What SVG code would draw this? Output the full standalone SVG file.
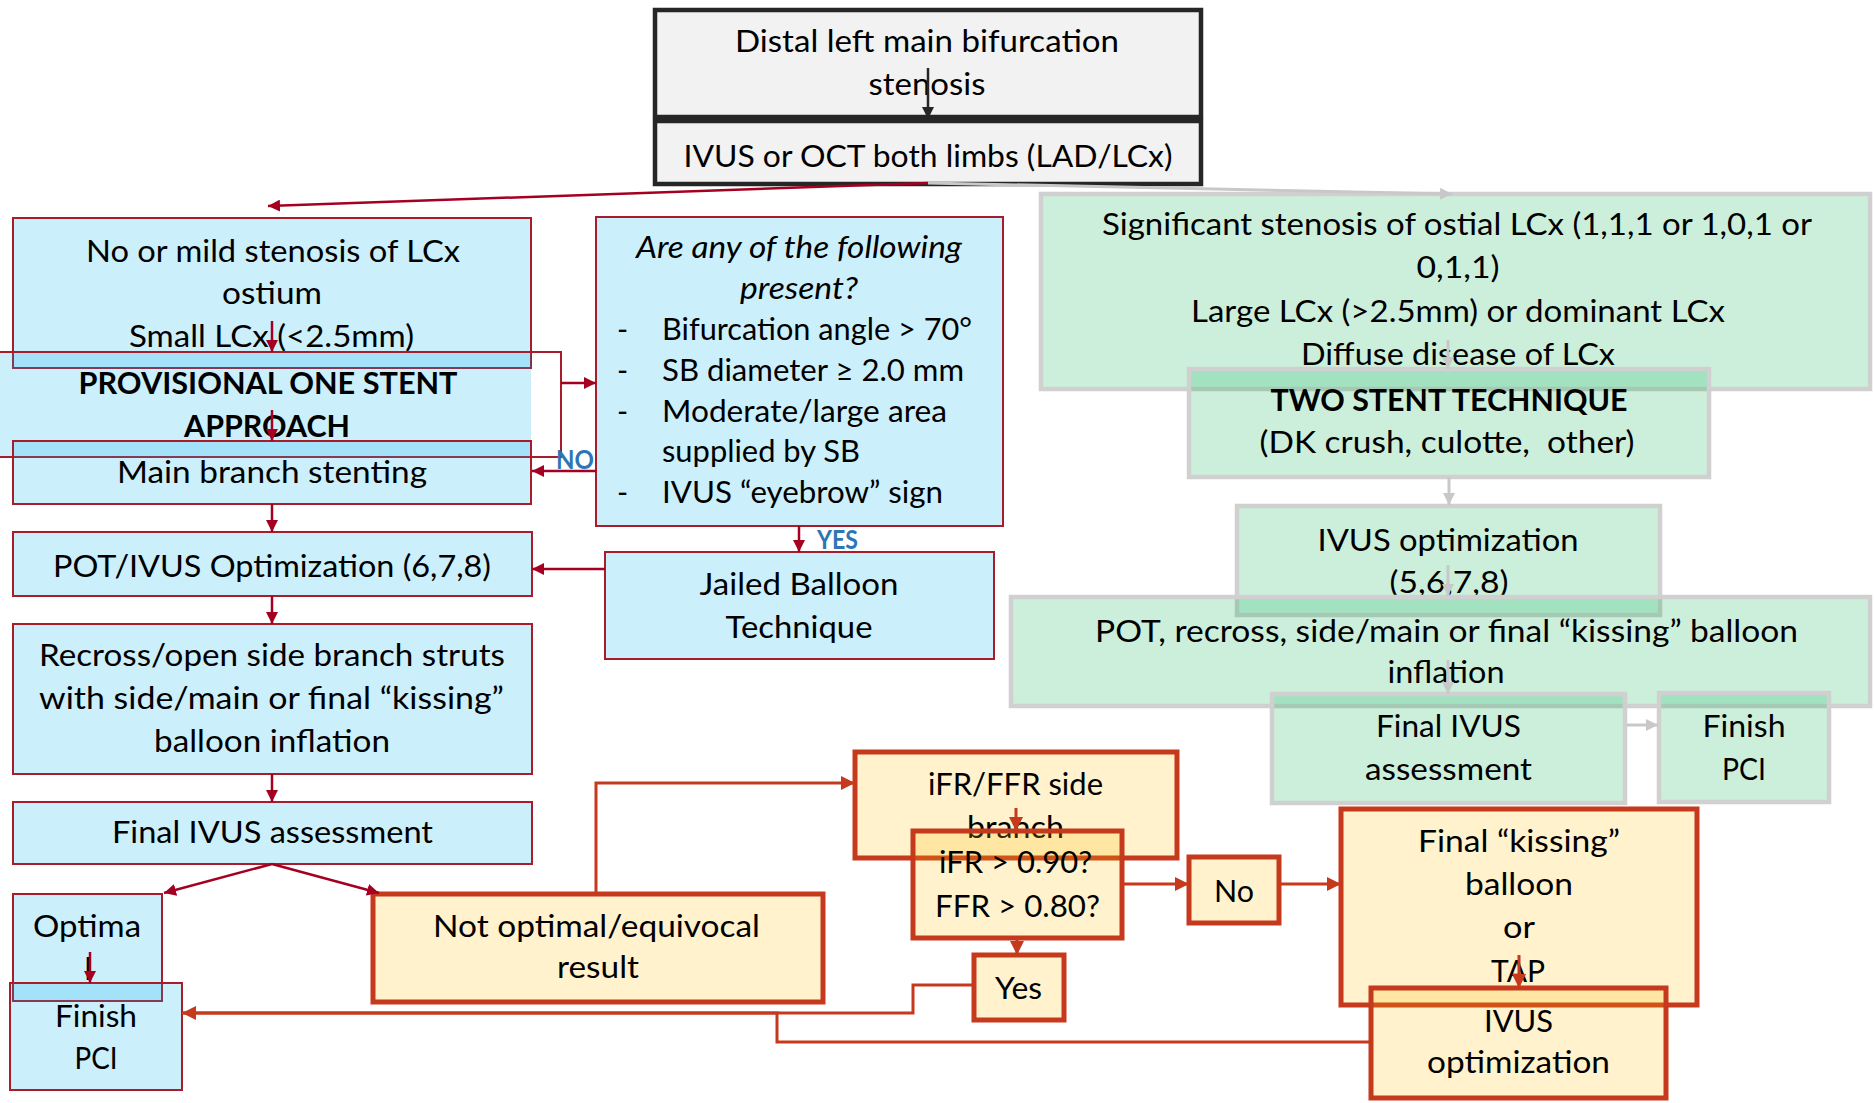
<svg xmlns="http://www.w3.org/2000/svg" width="1874" height="1103" viewBox="0 0 1874 1103">
<style>
.t{font-family:Lato,"Open Sans","Liberation Sans",sans-serif;font-size:30px;fill:#000;text-anchor:middle}
.s{text-anchor:start}
.b{font-weight:700}
.i{font-style:italic}
.lbl{font-family:Lato,"Open Sans","Liberation Sans",sans-serif;font-size:26px;font-weight:700;fill:#2E75B6}
.gry{fill:#F2F2F2;stroke:#262626;stroke-width:4.5}
.blu{fill:#00B0F0;fill-opacity:0.2;stroke:#A81C2C;stroke-width:2}
.bluf{fill:#00B0F0;fill-opacity:0.2;stroke:none}
.grn{fill:#00B050;fill-opacity:0.2;stroke:#D0D0D0;stroke-width:4.5}
.org{fill:#FFC000;fill-opacity:0.2;stroke:#C5391D;stroke-width:5}
.cr{fill:none;stroke:#A50021;stroke-width:2.5}
.cg{fill:none;stroke:#C8C8C8;stroke-width:3}
.ck{fill:none;stroke:#262626;stroke-width:2.5}
.co{fill:none;stroke:#C5391D;stroke-width:3}
</style>
<defs>
<marker id="ar" viewBox="0 0 12 12" refX="12" refY="6" markerWidth="12" markerHeight="12" markerUnits="userSpaceOnUse" orient="auto"><path d="M0,0 L12,6 L0,12 z" fill="#A50021"/></marker>
<marker id="ag" viewBox="0 0 12 12" refX="12" refY="6" markerWidth="12" markerHeight="12" markerUnits="userSpaceOnUse" orient="auto"><path d="M0,0 L12,6 L0,12 z" fill="#C8C8C8"/></marker>
<marker id="ak" viewBox="0 0 12 12" refX="12" refY="6" markerWidth="12" markerHeight="12" markerUnits="userSpaceOnUse" orient="auto"><path d="M0,0 L12,6 L0,12 z" fill="#262626"/></marker>
<marker id="ao" viewBox="0 0 14 14" refX="14" refY="7" markerWidth="14" markerHeight="14" markerUnits="userSpaceOnUse" orient="auto"><path d="M0,0 L14,7 L0,14 z" fill="#C5391D"/></marker>
</defs>
<rect width="1874" height="1103" fill="#fff"/>

<g id="n-distal">
<rect class="gry" x="655" y="10" width="546" height="107"/>
<text class="t" x="927" y="52" textLength="384" lengthAdjust="spacingAndGlyphs">Distal left main bifurcation</text>
<text class="t" x="927" y="95" textLength="117" lengthAdjust="spacingAndGlyphs">stenosis</text>
</g>
<g id="n-ivusoct">
<rect class="gry" x="655" y="121" width="546" height="63"/>
<text class="t" x="928" y="167" textLength="489" lengthAdjust="spacingAndGlyphs">IVUS or OCT both limbs (LAD/LCx)</text>
</g>

<g id="n-nomild">
<rect class="blu" x="13" y="218" width="518" height="150"/>
<text class="t" x="273" y="262" textLength="374" lengthAdjust="spacingAndGlyphs">No or mild stenosis of LCx</text>
<text class="t" x="272" y="304" textLength="100" lengthAdjust="spacingAndGlyphs">ostium</text>
<text class="t" x="271.5" y="347" textLength="285" lengthAdjust="spacingAndGlyphs">Small LCx (&lt;2.5mm)</text>
</g>
<g id="n-provisional">
<rect class="bluf" x="0" y="352" width="531" height="105"/>
<path d="M0,352 H561 V457 H0" fill="none" stroke="#A81C2C" stroke-width="2"/>
<text class="t b" x="268" y="394" textLength="379" lengthAdjust="spacingAndGlyphs">PROVISIONAL ONE STENT</text>
<text class="t b" x="267" y="437" textLength="166" lengthAdjust="spacingAndGlyphs">APPROACH</text>
</g>
<g id="n-mainbranch">
<rect class="blu" x="13" y="441" width="518" height="63"/>
<text class="t" x="272" y="483" textLength="310" lengthAdjust="spacingAndGlyphs">Main branch stenting</text>
</g>
<g id="n-pot">
<rect class="blu" x="13" y="532" width="519" height="64"/>
<text class="t" x="272" y="577" textLength="438" lengthAdjust="spacingAndGlyphs">POT/IVUS Optimization (6,7,8)</text>
</g>
<g id="n-recross">
<rect class="blu" x="13" y="624" width="519" height="150"/>
<text class="t" x="272" y="666" textLength="466" lengthAdjust="spacingAndGlyphs">Recross/open side branch struts</text>
<text class="t" x="271.5" y="709" textLength="465" lengthAdjust="spacingAndGlyphs">with side/main or final “kissing”</text>
<text class="t" x="272" y="752" textLength="236" lengthAdjust="spacingAndGlyphs">balloon inflation</text>
</g>
<g id="n-finalivus">
<rect class="blu" x="13" y="802" width="519" height="62"/>
<text class="t" x="272.5" y="843" textLength="321" lengthAdjust="spacingAndGlyphs">Final IVUS assessment</text>
</g>
<g id="n-optimal">
<rect class="blu" x="13" y="894" width="149" height="107"/>
<text class="t" x="87" y="937" textLength="108" lengthAdjust="spacingAndGlyphs">Optima</text>
<text class="t" x="88" y="980">l</text>
</g>
<g id="n-finishpci">
<rect class="blu" x="10" y="983" width="172" height="107"/>
<text class="t" x="96" y="1027" textLength="82" lengthAdjust="spacingAndGlyphs">Finish</text>
<text class="t" x="96" y="1069" textLength="43" lengthAdjust="spacingAndGlyphs">PCI</text>
</g>
<g id="n-areany">
<rect class="blu" x="596" y="217" width="407" height="309"/>
<text class="t i" x="799" y="258" textLength="326" lengthAdjust="spacingAndGlyphs">Are any of the following</text>
<text class="t i" x="799" y="299" textLength="118" lengthAdjust="spacingAndGlyphs">present?</text>
<text class="t s" x="617" y="340">-</text>
<text class="t s" x="662" y="340" textLength="310" lengthAdjust="spacingAndGlyphs">Bifurcation angle &gt; 70°</text>
<text class="t s" x="617" y="381">-</text>
<text class="t s" x="662" y="381" textLength="302" lengthAdjust="spacingAndGlyphs">SB diameter ≥ 2.0 mm</text>
<text class="t s" x="617" y="422">-</text>
<text class="t s" x="662" y="422" textLength="285" lengthAdjust="spacingAndGlyphs">Moderate/large area</text>
<text class="t s" x="662" y="462" textLength="198" lengthAdjust="spacingAndGlyphs">supplied by SB</text>
<text class="t s" x="617" y="503">-</text>
<text class="t s" x="662" y="503" textLength="281" lengthAdjust="spacingAndGlyphs">IVUS “eyebrow” sign</text>
</g>
<g id="n-jailed">
<rect class="blu" x="605" y="552" width="389" height="107"/>
<text class="t" x="799" y="595" textLength="199" lengthAdjust="spacingAndGlyphs">Jailed Balloon</text>
<text class="t" x="799" y="638" textLength="147" lengthAdjust="spacingAndGlyphs">Technique</text>
</g>

<g id="n-notoptimal">
<rect class="org" x="373" y="894" width="450" height="108"/>
<text class="t" x="596.5" y="937" textLength="327" lengthAdjust="spacingAndGlyphs">Not optimal/equivocal</text>
<text class="t" x="598" y="978" textLength="82" lengthAdjust="spacingAndGlyphs">result</text>
</g>
<g id="n-ifrffr">
<rect class="org" x="855" y="752" width="322" height="106"/>
<text class="t" x="1015.5" y="795" textLength="175" lengthAdjust="spacingAndGlyphs">iFR/FFR side</text>
<text class="t" x="1015.5" y="838" textLength="97" lengthAdjust="spacingAndGlyphs">branch</text>
</g>
<g id="n-ifrq">
<rect class="org" x="913" y="831" width="209" height="107"/>
<text class="t" x="1015.5" y="873" textLength="153" lengthAdjust="spacingAndGlyphs">iFR &gt; 0.90?</text>
<text class="t" x="1017.5" y="917" textLength="165" lengthAdjust="spacingAndGlyphs">FFR &gt; 0.80?</text>
</g>
<g id="n-yes">
<rect class="org" x="974" y="955" width="90" height="65"/>
<text class="t" x="1018.5" y="999" textLength="47" lengthAdjust="spacingAndGlyphs">Yes</text>
</g>
<g id="n-no">
<rect class="org" x="1189" y="857" width="90" height="66"/>
<text class="t" x="1234" y="902" textLength="40" lengthAdjust="spacingAndGlyphs">No</text>
</g>
<g id="n-kissing">
<rect class="org" x="1341" y="809" width="356" height="196"/>
<text class="t" x="1519" y="852" textLength="202" lengthAdjust="spacingAndGlyphs">Final “kissing”</text>
<text class="t" x="1519" y="895" textLength="108" lengthAdjust="spacingAndGlyphs">balloon</text>
<text class="t" x="1519" y="938" textLength="32" lengthAdjust="spacingAndGlyphs">or</text>
<text class="t" x="1518" y="982" textLength="54" lengthAdjust="spacingAndGlyphs">TAP</text>
</g>
<g id="n-ivusopt-o">
<rect class="org" x="1371" y="988" width="295" height="110"/>
<text class="t" x="1518.5" y="1032" textLength="69" lengthAdjust="spacingAndGlyphs">IVUS</text>
<text class="t" x="1518.5" y="1073" textLength="183" lengthAdjust="spacingAndGlyphs">optimization</text>
</g>

<g id="n-significant">
<rect class="grn" x="1041" y="194" width="829" height="195"/>
<text class="t" x="1457" y="235" textLength="710" lengthAdjust="spacingAndGlyphs">Significant stenosis of ostial LCx (1,1,1 or 1,0,1 or</text>
<text class="t" x="1458" y="278" textLength="83" lengthAdjust="spacingAndGlyphs">0,1,1)</text>
<text class="t" x="1458" y="322" textLength="534" lengthAdjust="spacingAndGlyphs">Large LCx (&gt;2.5mm) or dominant LCx</text>
<text class="t" x="1458" y="365" textLength="314" lengthAdjust="spacingAndGlyphs">Diffuse disease of LCx</text>
</g>
<g id="n-twostent">
<rect class="grn" x="1189" y="369" width="520" height="108"/>
<text class="t b" x="1449" y="411" font-size="27" textLength="357" lengthAdjust="spacingAndGlyphs">TWO STENT TECHNIQUE</text>
<text class="t" x="1447" y="453" font-size="27" textLength="375" lengthAdjust="spacingAndGlyphs">(DK crush, culotte, &#160;other)</text>
</g>
<g id="n-ivusopt-g">
<rect class="grn" x="1237" y="506" width="423" height="109"/>
<text class="t" x="1448" y="551" textLength="261" lengthAdjust="spacingAndGlyphs">IVUS optimization</text>
<text class="t" x="1449" y="593" textLength="119" lengthAdjust="spacingAndGlyphs">(5,6,7,8)</text>
</g>
<g id="n-potrecross">
<rect class="grn" x="1011" y="597" width="859" height="109"/>
<text class="t" x="1446.5" y="642" textLength="703" lengthAdjust="spacingAndGlyphs">POT, recross, side/main or final “kissing” balloon</text>
<text class="t" x="1446" y="683" textLength="117" lengthAdjust="spacingAndGlyphs">inflation</text>
</g>
<g id="n-finalivus-g">
<rect class="grn" x="1272" y="694" width="353" height="109"/>
<text class="t" x="1448.5" y="737" textLength="145" lengthAdjust="spacingAndGlyphs">Final IVUS</text>
<text class="t" x="1448.5" y="780" textLength="167" lengthAdjust="spacingAndGlyphs">assessment</text>
</g>
<g id="n-finishpci-g">
<rect class="grn" x="1659" y="693" width="170" height="109"/>
<text class="t" x="1744" y="737" textLength="83" lengthAdjust="spacingAndGlyphs">Finish</text>
<text class="t" x="1744" y="780" textLength="44" lengthAdjust="spacingAndGlyphs">PCI</text>
</g>

<g id="connectors">
<path class="ck" d="M928,68 V119" marker-end="url(#ak)"/>
<path class="cr" d="M928,183 L268,206" stroke-width="3" marker-end="url(#ar)"/>
<path class="cg" d="M928,183 L1452,194" marker-end="url(#ag)"/>
<path class="cr" d="M272,321 V352" marker-end="url(#ar)"/>
<path class="cr" d="M272,410 V441" marker-end="url(#ar)"/>
<path class="cr" d="M561,383 H596" marker-end="url(#ar)"/>
<path class="cr" d="M596,471 H532" marker-end="url(#ar)"/>
<text class="lbl" x="556" y="469" textLength="38" lengthAdjust="spacingAndGlyphs">NO</text>
<path class="cr" d="M272,504 V532" marker-end="url(#ar)"/>
<path class="cr" d="M799,526 V552" marker-end="url(#ar)"/>
<text class="lbl" x="817" y="549" textLength="41" lengthAdjust="spacingAndGlyphs">YES</text>
<path class="cr" d="M605,569 H532" marker-end="url(#ar)"/>
<path class="cr" d="M272,596 V624" marker-end="url(#ar)"/>
<path class="cr" d="M272,774 V802" marker-end="url(#ar)"/>
<path class="cr" d="M272,864 L164,893" stroke-width="3" marker-end="url(#ar)"/>
<path class="cr" d="M272,864 L379,893" stroke-width="3" marker-end="url(#ar)"/>
<path class="cr" d="M90,952 V983" marker-end="url(#ar)"/>
<path class="cg" d="M1448,340 V369" marker-end="url(#ag)"/>
<path class="cg" d="M1449,477 V505" marker-end="url(#ag)"/>
<path class="cg" d="M1448,565 V596" marker-end="url(#ag)"/>
<path class="cg" d="M1448,660 V694" marker-end="url(#ag)"/>
<path class="cg" d="M1627,725 H1658" stroke-width="6" marker-end="url(#ag)"/>
<path class="co" d="M596,892 V783 H855" stroke-width="4" marker-end="url(#ao)"/>
<path class="co" d="M1016,808 V831" marker-end="url(#ao)"/>
<path class="co" d="M1017,938 V955" marker-end="url(#ao)"/>
<path class="co" d="M1124,884 H1189" stroke-width="5" marker-end="url(#ao)"/>
<path class="co" d="M1281,884 H1341" stroke-width="5" marker-end="url(#ao)"/>
<path class="co" d="M1519,955 V988" marker-end="url(#ao)"/>
<path class="co" d="M974,985 H913 V1013 H182" stroke-width="2"/>
<path class="co" d="M1371,1042 H777 V1013 H182" marker-end="url(#ao)"/>
</g>
</svg>
